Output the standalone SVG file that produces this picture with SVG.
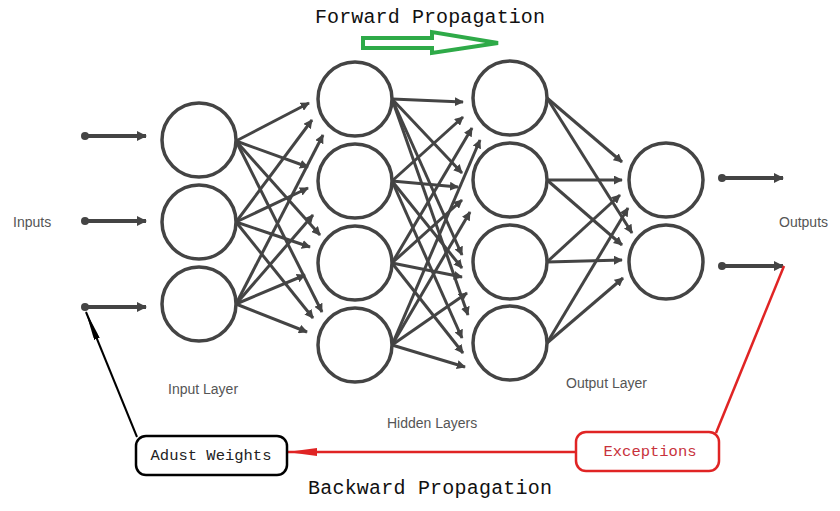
<svg xmlns="http://www.w3.org/2000/svg" width="840" height="511" viewBox="0 0 840 511">
<defs>
<style>
.node{fill:#fff;stroke:#444;stroke-width:3.5}
.c{stroke:#444;stroke-width:3;fill:none;marker-end:url(#ah)}
.io{stroke:#444;stroke-width:4;fill:none;marker-end:url(#ah2)}
.dot{fill:#444}
.lbl{font-family:"Liberation Sans",Arial,sans-serif;font-size:14px;fill:#555}
.mono{font-family:"Liberation Mono","Courier New",monospace}
</style>
<marker id="ah" viewBox="0 0 10 10" refX="9" refY="5" markerWidth="9" markerHeight="9" markerUnits="userSpaceOnUse" orient="auto"><path d="M0,0 L10,5 L0,10 z" fill="#444"/></marker>
<marker id="ah2" viewBox="0 0 10 10" refX="9" refY="5" markerWidth="10" markerHeight="10" markerUnits="userSpaceOnUse" orient="auto"><path d="M0,0 L10,5 L0,10 z" fill="#444"/></marker>
<marker id="blk" viewBox="0 0 30 6" refX="29" refY="3" markerWidth="30" markerHeight="6" markerUnits="userSpaceOnUse" orient="auto"><path d="M0,0 L30,3 L0,6 z" fill="#000"/></marker>
<marker id="red" viewBox="0 0 30 8" refX="29" refY="4" markerWidth="30" markerHeight="8" markerUnits="userSpaceOnUse" orient="auto"><path d="M0,0 L30,4 L0,8 z" fill="#e02424"/></marker>
</defs>
<rect width="840" height="511" fill="#fff"/>

<g id="connectors">
<line class="io" x1="85" y1="136" x2="146" y2="136"/>
<line class="io" x1="85" y1="221" x2="146" y2="221"/>
<line class="io" x1="85" y1="307" x2="146" y2="307"/>
<circle class="dot" cx="85" cy="136" r="4"/>
<circle class="dot" cx="85" cy="221" r="4"/>
<circle class="dot" cx="85" cy="307" r="4"/>
<line class="io" x1="722" y1="178" x2="783" y2="178"/>
<line class="io" x1="722" y1="266" x2="783" y2="266"/>
<circle class="dot" cx="722" cy="178" r="4"/>
<circle class="dot" cx="722" cy="266" r="4"/>
<line class="c" x1="236" y1="141" x2="309" y2="103"/>
<line class="c" x1="236" y1="141" x2="308" y2="167"/>
<line class="c" x1="236" y1="141" x2="320" y2="235"/>
<line class="c" x1="236" y1="141" x2="322" y2="312"/>
<line class="c" x1="236" y1="222" x2="312" y2="120"/>
<line class="c" x1="236" y1="222" x2="308" y2="188"/>
<line class="c" x1="236" y1="222" x2="310" y2="247"/>
<line class="c" x1="236" y1="222" x2="313" y2="318"/>
<line class="c" x1="236" y1="304" x2="323" y2="135"/>
<line class="c" x1="236" y1="304" x2="313" y2="215"/>
<line class="c" x1="236" y1="304" x2="305" y2="275"/>
<line class="c" x1="236" y1="304" x2="307" y2="332"/>
<line class="c" x1="392" y1="99" x2="463" y2="102"/>
<line class="c" x1="392" y1="99" x2="462" y2="173"/>
<line class="c" x1="392" y1="99" x2="462" y2="255"/>
<line class="c" x1="392" y1="99" x2="468" y2="315"/>
<line class="c" x1="392" y1="181" x2="463" y2="117"/>
<line class="c" x1="392" y1="181" x2="458" y2="187"/>
<line class="c" x1="392" y1="181" x2="462" y2="268"/>
<line class="c" x1="392" y1="181" x2="462" y2="338"/>
<line class="c" x1="392" y1="263" x2="472" y2="128"/>
<line class="c" x1="392" y1="263" x2="462" y2="200"/>
<line class="c" x1="392" y1="263" x2="462" y2="277"/>
<line class="c" x1="392" y1="263" x2="463" y2="353"/>
<line class="c" x1="392" y1="345" x2="480" y2="140"/>
<line class="c" x1="392" y1="345" x2="470" y2="212"/>
<line class="c" x1="392" y1="345" x2="467" y2="293"/>
<line class="c" x1="392" y1="345" x2="465" y2="367"/>
<line class="c" x1="547" y1="98" x2="622" y2="162"/>
<line class="c" x1="547" y1="98" x2="632" y2="233"/>
<line class="c" x1="547" y1="180" x2="622" y2="180"/>
<line class="c" x1="547" y1="180" x2="622" y2="245"/>
<line class="c" x1="547" y1="262" x2="620" y2="195"/>
<line class="c" x1="547" y1="262" x2="622" y2="260"/>
<line class="c" x1="547" y1="343" x2="628" y2="208"/>
<line class="c" x1="547" y1="343" x2="623" y2="278"/>
<line x1="784" y1="266" x2="716" y2="433" stroke="#e02424" stroke-width="2.5"/>
<line x1="575" y1="452" x2="288" y2="452" stroke="#e02424" stroke-width="2.5" marker-end="url(#red)"/>
<line x1="137" y1="437" x2="86" y2="312" stroke="#000" stroke-width="2" marker-end="url(#blk)"/>
</g>

<g id="input-layer">
<circle class="node" cx="199" cy="140" r="37"/>
<circle class="node" cx="199" cy="222" r="37"/>
<circle class="node" cx="199" cy="304" r="37"/>
</g>
<g id="hidden-layer-1">
<circle class="node" cx="355" cy="99" r="37"/>
<circle class="node" cx="355" cy="181" r="37"/>
<circle class="node" cx="355" cy="263" r="37"/>
<circle class="node" cx="355" cy="345" r="37"/>
</g>
<g id="hidden-layer-2">
<circle class="node" cx="510" cy="98" r="37"/>
<circle class="node" cx="510" cy="180" r="37"/>
<circle class="node" cx="510" cy="262" r="37"/>
<circle class="node" cx="510" cy="343" r="37"/>
</g>
<g id="output-layer">
<circle class="node" cx="666" cy="180" r="37"/>
<circle class="node" cx="666" cy="262" r="37"/>
</g>

<g id="labels">
<text class="lbl" x="13" y="227">Inputs</text>
<text class="lbl" x="779" y="227">Outputs</text>
<text class="lbl" x="168" y="394">Input Layer</text>
<text class="lbl" x="387" y="428">Hidden Layers</text>
<text class="lbl" x="566" y="388">Output Layer</text>
</g>

<g id="forward">
<text class="mono" x="315" y="23" font-size="20" fill="#111" textLength="230" lengthAdjust="spacing">Forward Propagation</text>
<polygon points="363,38 432,38 432,32 498,43 432,53 432,48 363,48" fill="#fff" stroke="#2eaa48" stroke-width="4" stroke-linejoin="miter"/>
</g>

<g id="backward">
<text class="mono" x="308" y="494" font-size="20" fill="#111" textLength="244" lengthAdjust="spacing">Backward Propagation</text>
</g>

<g id="adjust-weights">
<rect x="136" y="436" width="151" height="39" rx="10" fill="#fff" stroke="#000" stroke-width="2.5"/>
<text class="mono" x="211" y="460" font-size="15.5" fill="#222" text-anchor="middle">Adust Weights</text>
</g>

<g id="exceptions">
<rect x="576" y="432" width="143" height="39" rx="10" fill="#fff" stroke="#e02424" stroke-width="2.5"/>
<text class="mono" x="650" y="456" font-size="15.5" fill="#c8323c" text-anchor="middle">Exceptions</text>
</g>
</svg>
